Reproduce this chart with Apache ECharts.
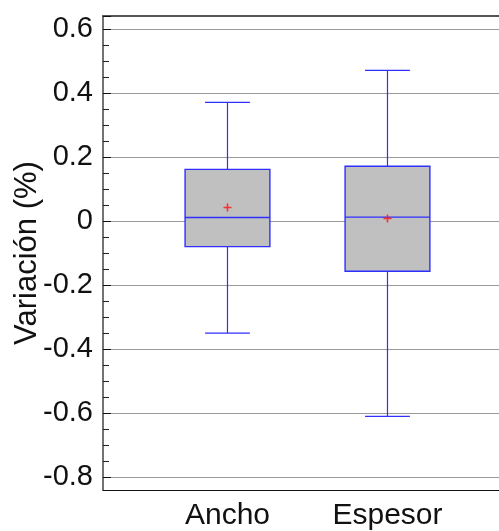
<!DOCTYPE html>
<html>
<head>
<meta charset="utf-8">
<script src="https://cdn.jsdelivr.net/npm/echarts@6/dist/echarts.min.js"></script>
<style>
  html, body { margin: 0; padding: 0; background: #fff; }
  #chart { width: 499px; height: 531px; }
</style>
</head>
<body>
<div id="chart"></div>
<script>
    // valores
    var categories = ['Ancho', 'Espesor'];
    var whiskerLow = [-0.35, -0.61];
    var quartile1 = [-0.08, -0.157];
    var medians = [0.011, 0.012];
    var quartile3 = [0.161, 0.171];
    var whiskerHigh = [0.37, 0.47];
    var means = [0.042, 0.008];

    var boxData = categories.map(function (c, i) {
        return [i, whiskerLow[i], quartile1[i], medians[i], quartile3[i], whiskerHigh[i]];
    });
    var meanData = categories.map(function (c, i) {
        return [i, means[i]];
    });

    var fontFamily = '"Liberation Sans", Arial, sans-serif';
    var blue = '#2f2fff';

    var chart = echarts.init(document.getElementById('chart'));

    function renderBox(params, api) {
        var x = api.value(0);
        var lo = api.coord([x, api.value(1)]);
        var q1 = api.coord([x, api.value(2)]);
        var md = api.coord([x, api.value(3)]);
        var q3 = api.coord([x, api.value(4)]);
        var hi = api.coord([x, api.value(5)]);
        var half = api.size([0.53, 0])[0] / 2;
        var cap = api.size([0.28, 0])[0] / 2;
        var cx = lo[0];
        var lineStyle = {stroke: blue, lineWidth: 1.2};
        return {
            type: 'group',
            children: [
                {type: 'line', shape: {x1: cx, y1: hi[1], x2: cx, y2: q3[1]}, style: lineStyle},
                {type: 'line', shape: {x1: cx, y1: q1[1], x2: cx, y2: lo[1]}, style: lineStyle},
                {type: 'line', shape: {x1: cx - cap, y1: hi[1], x2: cx + cap, y2: hi[1]}, style: lineStyle},
                {type: 'line', shape: {x1: cx - cap, y1: lo[1], x2: cx + cap, y2: lo[1]}, style: lineStyle},
                {
                    type: 'rect',
                    shape: {x: cx - half, y: q3[1], width: half * 2, height: q1[1] - q3[1]},
                    style: {fill: '#c0c0c0', stroke: blue, lineWidth: 1.4}
                },
                {type: 'line', shape: {x1: cx - half, y1: md[1], x2: cx + half, y2: md[1]}, style: {stroke: blue, lineWidth: 1.4}}
            ]
        };
    }

    chart.setOption({
        animation: false,
        grid: {
            left: 103,
            right: 0,
            top: 16,
            bottom: 41,
            containLabel: false,
            outerBoundsMode: 'none'
        },
        xAxis: [{
            type: 'value',
            min: -0.778,
            max: 1.697,
            position: 'bottom',
            axisLine: {show: true, onZero: false, lineStyle: {color: '#111', width: 1.2}},
            axisTick: {show: false},
            splitLine: {show: false},
            axisLabel: {
                customValues: [0, 1],
                formatter: function (v) {
                    return categories[Math.round(v)];
                },
                color: '#111',
                fontSize: 30,
                fontFamily: fontFamily,
                margin: 11
            }
        }, {
            type: 'value',
            min: -0.778,
            max: 1.697,
            position: 'top',
            axisLine: {show: true, onZero: false, lineStyle: {color: '#555', width: 2}},
            axisTick: {show: false},
            axisLabel: {show: false},
            splitLine: {show: false}
        }],
        yAxis: {
            type: 'value',
            min: -0.84,
            max: 0.64,
            splitNumber: 7,
            name: 'Variación (%)',
            nameLocation: 'middle',
            nameGap: 60,
            nameMoveOverlap: false,
            nameTextStyle: {
                color: '#111',
                fontSize: 31,
                fontFamily: fontFamily
            },
            axisLine: {show: true, onZero: false, lineStyle: {color: '#444', width: 1.5}},
            axisTick: {show: true, inside: true, length: 8, lineStyle: {color: '#111', width: 1}},
            minorTick: {show: true, splitNumber: 4, length: 6, lineStyle: {color: '#222', width: 1}},
            splitLine: {show: true, lineStyle: {color: '#9a9a9a', width: 1.2}},
            axisLabel: {
                color: '#111',
                fontSize: 29,
                fontFamily: fontFamily,
                margin: 10,
                formatter: function (v) {
                    return Math.abs(v) < 1e-9 ? '0' : String(Math.round(v * 10) / 10);
                }
            }
        },
        series: [{
            type: 'custom',
            xAxisIndex: 0,
            renderItem: renderBox,
            data: boxData,
            z: 2
        }, {
            type: 'scatter',
            xAxisIndex: 0,
            data: meanData,
            symbol: 'path://M3,0h1.5v3h3v1.5h-3v3h-1.5v-3h-3v-1.5h3z',
            symbolSize: 8,
            itemStyle: {color: '#ff1010'},
            z: 3
        }]
    });
</script>
</body>
</html>
